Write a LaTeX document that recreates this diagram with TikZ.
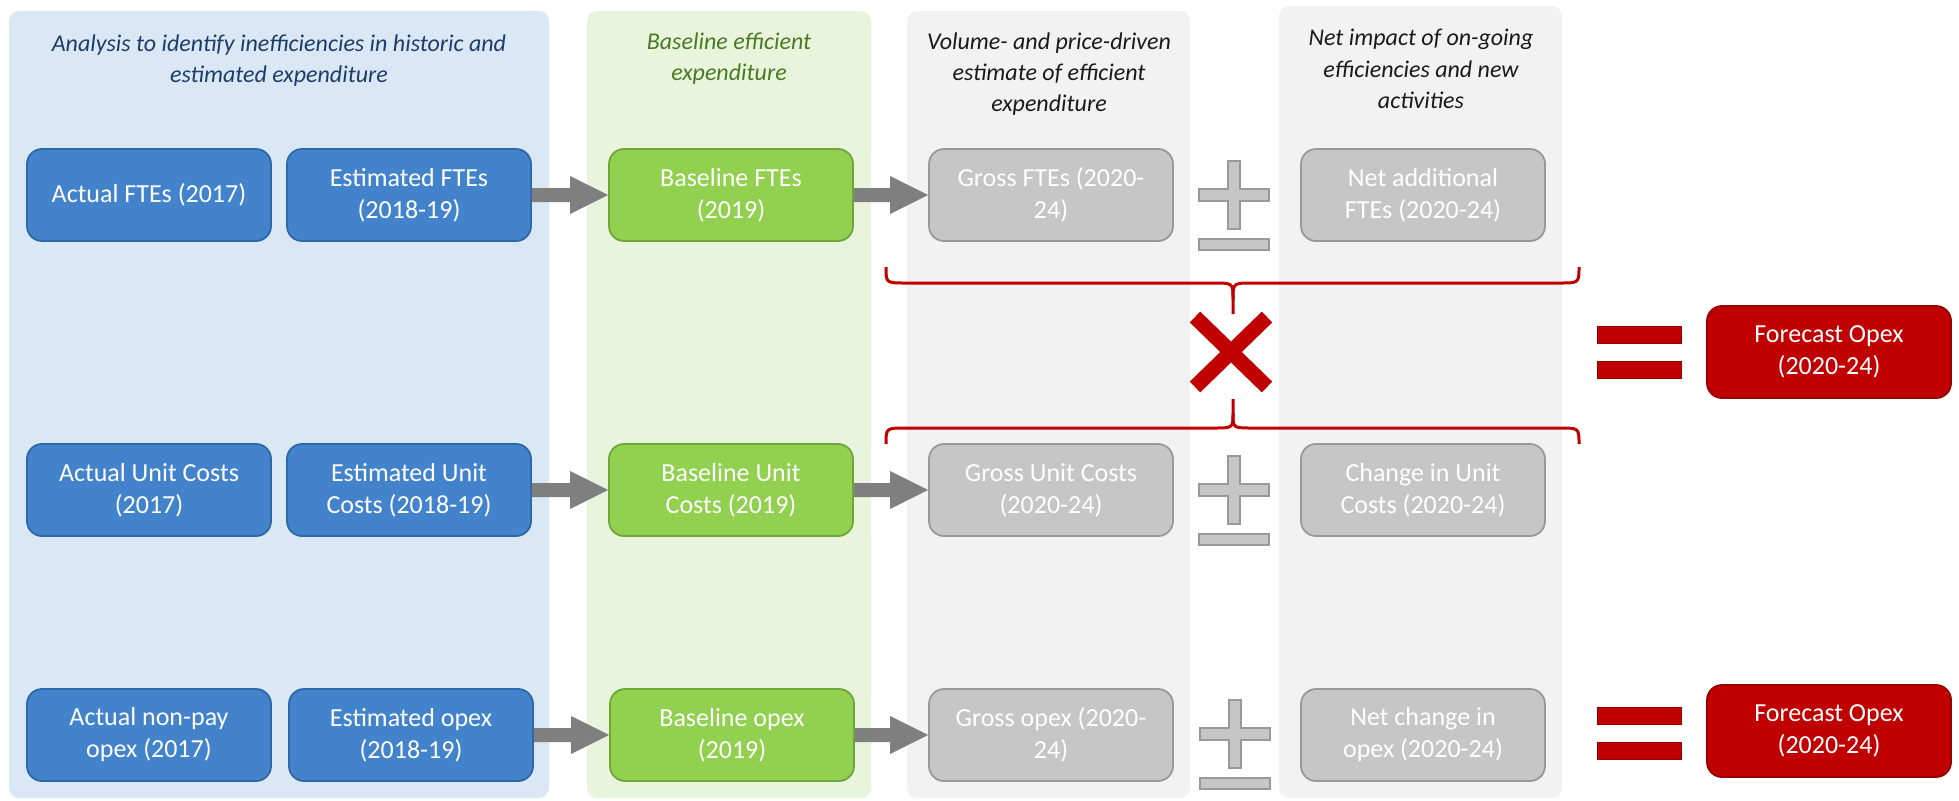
\documentclass[tikz,border=0pt]{standalone}
\usepackage{fontspec}
\setmainfont{Carlito}
\usetikzlibrary{calc}
\definecolor{panelblue}{HTML}{DAE7F4}
\definecolor{panelgreen}{HTML}{E8F5DC}
\definecolor{panelgrey}{HTML}{F2F2F2}
\definecolor{boxblue}{HTML}{4283CB}
\definecolor{boxblueedge}{HTML}{2F68A6}
\definecolor{boxgreen}{HTML}{92D050}
\definecolor{boxgreenedge}{HTML}{6FA53B}
\definecolor{boxgrey}{HTML}{C6C6C6}
\definecolor{boxgreyedge}{HTML}{999999}
\definecolor{boxred}{HTML}{C00000}
\definecolor{boxrededge}{HTML}{990000}
\definecolor{arrowgrey}{HTML}{7F7F7F}
\definecolor{hdrblue}{HTML}{1F3D6B}
\definecolor{hdrgreen}{HTML}{4A7A25}
\definecolor{hdrblack}{HTML}{1A1A1A}
\newcommand{\blockarrow}[2]{%
  \fill[arrowgrey] ($(#1.east)+(0,-7)$) -- ($(#2.west)+(-38,-7)$) -- ($(#2.west)+(-38,-19)$)
    -- (#2.west) -- ($(#2.west)+(-38,19)$) -- ($(#2.west)+(-38,7)$) -- ($(#1.east)+(0,7)$) -- cycle;}
\newcommand{\drawplusminus}[2]{%
  \begin{scope}[shift={(#1,#2)}]
    \filldraw[signgrey] (-6,-34) -- (6,-34) -- (6,-6) -- (35,-6) -- (35,6) -- (6,6) -- (6,34)
      -- (-6,34) -- (-6,6) -- (-35,6) -- (-35,-6) -- (-6,-6) -- cycle;
    \filldraw[signgrey] (-35,44) rectangle (35,55);
  \end{scope}}
\newcommand{\drawequals}[2]{%
  \begin{scope}[shift={(#1,#2)}]
    \filldraw[signred] (-42,-26) rectangle (42,-9);
    \filldraw[signred] (-42,9) rectangle (42,26);
  \end{scope}}
\begin{document}
\begin{tikzpicture}[x=0.5pt,y=-0.5pt,
  panel/.style={rounded corners=5pt},
  box/.style={rounded corners=7.5pt, minimum width=122pt, minimum height=46pt, inner sep=0pt,
    align=center, font=\fontsize{13}{16}\selectfont, text=white, line width=0.9pt},
  bluebox/.style={box, fill=boxblue, draw=boxblueedge},
  greenbox/.style={box, fill=boxgreen, draw=boxgreenedge},
  greybox/.style={box, fill=boxgrey, draw=boxgreyedge},
  redbox/.style={box, fill=boxred, draw=boxrededge},
  hdr/.style={font=\fontsize{12}{15}\selectfont\itshape, anchor=base, inner sep=0pt},
  signgrey/.style={fill=boxgrey, draw=boxgreyedge, line width=0.6pt},
  signred/.style={fill=boxred, draw=boxrededge, line width=0.5pt},
  bracestyle/.style={draw=boxred, line width=1.5pt}]
\useasboundingbox (0,0) rectangle (1959,800);
% panels
\fill[panel, panelblue] (9,11) rectangle (549,798);
\fill[panel, panelgreen] (587,11) rectangle (871,798);
\fill[panel, panelgrey] (907,11) rectangle (1190,798);
\fill[panel, panelgrey] (1279,6) rectangle (1562,798);
% headers
\node[hdr, text=hdrblue] (h1a) at (279,51) {Analysis to identify inefficiencies in historic and};
\node[hdr, text=hdrblue] (h1b) at (279,82) {estimated expenditure};
\node[hdr, text=hdrgreen] (h2a) at (729,49) {Baseline efficient};
\node[hdr, text=hdrgreen] (h2b) at (729,80) {expenditure};
\node[hdr, text=hdrblack] (h3a) at (1049,49) {Volume- and price-driven};
\node[hdr, text=hdrblack] (h3b) at (1049,80) {estimate of efficient};
\node[hdr, text=hdrblack] (h3c) at (1049,111) {expenditure};
\node[hdr, text=hdrblack] (h4a) at (1421,45) {Net impact of on-going};
\node[hdr, text=hdrblack] (h4b) at (1421,77) {efficiencies and new};
\node[hdr, text=hdrblack] (h4c) at (1421,108) {activities};
% row 1
\node[bluebox] (a1) at (149,195) {Actual FTEs (2017)};
\node[bluebox] (b1) at (409,195) {Estimated FTEs\\(2018-19)};
\node[greenbox] (c1) at (731,195) {Baseline FTEs\\(2019)};
\node[greybox] (d1) at (1051,195) {Gross FTEs (2020-\\24)};
\node[greybox] (e1) at (1423,195) {Net additional\\FTEs (2020-24)};
% row 2
\node[bluebox] (a2) at (149,490) {Actual Unit Costs\\(2017)};
\node[bluebox] (b2) at (409,490) {Estimated Unit\\Costs (2018-19)};
\node[greenbox] (c2) at (731,490) {Baseline Unit\\Costs (2019)};
\node[greybox] (d2) at (1051,490) {Gross Unit Costs\\(2020-24)};
\node[greybox] (e2) at (1423,490) {Change in Unit\\Costs (2020-24)};
% row 3
\node[bluebox] (a3) at (149,735) {Actual non-pay\\opex (2017)};
\node[bluebox] (b3) at (411,735) {Estimated opex\\(2018-19)};
\node[greenbox] (c3) at (732,735) {Baseline opex\\(2019)};
\node[greybox] (d3) at (1051,735) {Gross opex (2020-\\24)};
\node[greybox] (e3) at (1423,735) {Net change in\\opex (2020-24)};
% forecasts
\node[redbox] (f2) at (1829,352) {Forecast Opex\\(2020-24)};
\node[redbox] (f3) at (1829,731) {Forecast Opex\\(2020-24)};
% arrows
\blockarrow{b1}{c1}
\blockarrow{c1}{d1}
\blockarrow{b2}{c2}
\blockarrow{c2}{d2}
\blockarrow{b3}{c3}
\blockarrow{c3}{d3}
% plus-minus signs
\drawplusminus{1234}{195}
\drawplusminus{1234}{490}
\drawplusminus{1235}{734}
% braces
\draw[bracestyle] (886,267) .. controls (886,283) .. (906,283) -- (1213,283)
  .. controls (1233,283) .. (1233,299) -- (1233,314);
\draw[bracestyle] (1233,299) .. controls (1233,283) .. (1253,283) -- (1559,283)
  .. controls (1579,283) .. (1579,267);
\draw[bracestyle] (886,444) .. controls (886,428) .. (906,428) -- (1213,428)
  .. controls (1233,428) .. (1233,414) -- (1233,399);
\draw[bracestyle] (1233,414) .. controls (1233,428) .. (1253,428) -- (1559,428)
  .. controls (1579,428) .. (1579,444);
% multiplication sign
\begin{scope}[shift={(1231,352)}]
  \draw[boxred, line width=7.5pt] (-36,-35) -- (36,35) (36,-35) -- (-36,35);
\end{scope}
% equals signs
\drawequals{1639}{352}
\drawequals{1639}{733}
\end{tikzpicture}
\end{document}
